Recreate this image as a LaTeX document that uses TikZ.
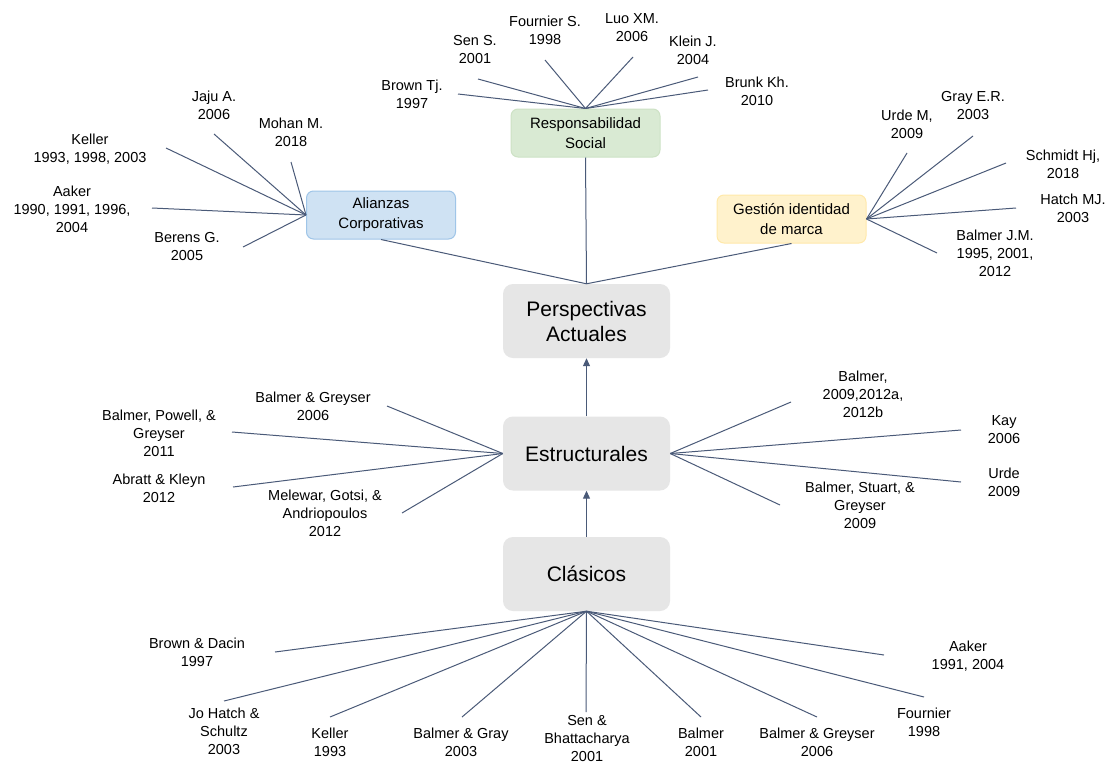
\documentclass[tikz,border=0pt]{standalone}
\usepackage{fontspec}
\setmainfont{Liberation Sans}
\usetikzlibrary{arrows.meta}
\definecolor{linec}{RGB}{74,90,120}
\definecolor{maingray}{RGB}{230,230,230}
\definecolor{bluefill}{RGB}{207,226,243}
\definecolor{blueline}{RGB}{159,197,232}
\definecolor{greenfill}{RGB}{217,234,211}
\definecolor{greenline}{RGB}{205,226,197}
\definecolor{yellowfill}{RGB}{255,242,204}
\definecolor{yellowline}{RGB}{255,233,170}
\begin{document}
\begin{tikzpicture}[x=1pt,y=-1pt,
  lbl/.style={align=center,font=\fontsize{14.5}{18}\selectfont,inner sep=0pt},
  mainbox/.style={fill=maingray,rounded corners=10pt,minimum width=167pt,minimum height=74pt,align=center,font=\fontsize{21}{25}\selectfont,inner sep=0pt},
  subbox/.style={rounded corners=7pt,minimum width=149pt,minimum height=48pt,align=center,font=\fontsize{15}{20}\selectfont,inner sep=0pt,line width=1pt},
  conn/.style={draw=linec,line width=1pt},
  arr/.style={conn,-{Triangle[length=8pt,width=7pt]}}]
\useasboundingbox (0,0) rectangle (1107,763);
\fill[white] (0,0) rectangle (1107,763);

% main boxes
\node[mainbox] (pers) at (586.5,321) {Perspectivas\\Actuales};
\node[mainbox] (estr) at (586.5,453.5) {Estructurales};
\node[mainbox] (clas) at (586.5,574) {Clásicos};

% sub boxes
\node[subbox,fill=bluefill,draw=blueline] (ali) at (381,215) {Alianzas\\Corporativas};
\node[subbox,fill=greenfill,draw=greenline] (resp) at (585.5,133) {Responsabilidad\\Social};
\node[subbox,fill=yellowfill,draw=yellowline] (gest) at (791.5,219) {Gestión identidad\\de marca};

% arrows and trunk lines
\draw[arr] (clas.north) -- (estr.south);
\draw[arr] (estr.north) -- (pers.south);
\draw[conn] (pers.north) -- (resp.south);
\draw[conn] (pers.north) -- (ali.south);
\draw[conn] (pers.north) -- (gest.south);

% Alianzas labels
\node[lbl] (jaju) at (214,105) {Jaju A.\\2006};
\node[lbl] (mohan) at (291,132) {Mohan M.\\2018};
\node[lbl] (keller1) at (90,149) {Keller\\1993, 1998, 2003};
\node[lbl] (aaker1) at (72,209) {Aaker\\1990, 1991, 1996,\\2004};
\node[lbl] (berens) at (187,247) {Berens G.\\2005};
\coordinate (ejaju) at (214,134);
\coordinate (emohan) at (291,162);
\coordinate (ekeller1) at (166,148);
\coordinate (eaaker1) at (152,208);
\coordinate (eberens) at (243,247);
\foreach \e in {ejaju,emohan,ekeller1,eaaker1,eberens}
  \draw[conn] (ali.west) -- (\e);

% Responsabilidad labels
\node[lbl] (browntj) at (412,94) {Brown Tj.\\1997};
\node[lbl] (sens) at (475,50) {Sen S.\\2001};
\node[lbl] (fournierS) at (545,30) {Fournier S.\\1998};
\node[lbl] (luo) at (632,28) {Luo XM.\\2006};
\node[lbl] (klein) at (693,50) {Klein J.\\2004};
\node[lbl] (brunk) at (757,91) {Brunk Kh.\\2010};
\coordinate (ebrowntj) at (458,94);
\coordinate (esens) at (478,79);
\coordinate (efournierS) at (545,60);
\coordinate (eluo) at (633,57);
\coordinate (eklein) at (698,77);
\coordinate (ebrunk) at (708,90);
\foreach \e in {ebrowntj,esens,efournierS,eluo,eklein,ebrunk}
  \draw[conn] (resp.north) -- (\e);

% Gestion labels
\node[lbl] (urde1) at (907,124) {Urde M,\\2009};
\node[lbl] (gray) at (973,106) {Gray E.R.\\2003};
\node[lbl] (schmidt) at (1063,164) {Schmidt Hj,\\2018};
\node[lbl] (hatch) at (1073,208) {Hatch MJ.\\2003};
\node[lbl] (balmerjm) at (995,253) {Balmer J.M.\\1995, 2001,\\2012};
\coordinate (eurde1) at (907,153);
\coordinate (egray) at (973,136);
\coordinate (eschmidt) at (1006,163);
\coordinate (ehatch) at (1016,208);
\coordinate (ebalmerjm) at (937,253);
\foreach \e in {eurde1,egray,eschmidt,ehatch,ebalmerjm}
  \draw[conn] (gest.east) -- (\e);

% Estructurales left
\node[lbl] (bg2006) at (313,406) {Balmer \& Greyser\\2006};
\node[lbl] (bpg) at (159,433) {Balmer, Powell, \&\\Greyser\\2011};
\node[lbl] (ak) at (159,488) {Abratt \& Kleyn\\2012};
\node[lbl] (mga) at (325,513) {Melewar, Gotsi, \&\\Andriopoulos\\2012};
\coordinate (ebg2006) at (387,406);
\coordinate (ebpg) at (232,432);
\coordinate (eak) at (233,487);
\coordinate (emga) at (402,513);
\foreach \e in {ebg2006,ebpg,eak,emga}
  \draw[conn] (estr.west) -- (\e);

% Estructurales right
\node[lbl] (balmer09) at (863,394) {Balmer,\\2009,2012a,\\2012b};
\node[lbl] (kay) at (1004,430) {Kay\\2006};
\node[lbl] (urde2) at (1004,482) {Urde\\2009};
\node[lbl] (bsg) at (860,505) {Balmer, Stuart, \&\\Greyser\\2009};
\coordinate (ebalmer09) at (791,402);
\coordinate (ekay) at (961,430);
\coordinate (eurde2) at (961,482);
\coordinate (ebsg) at (780,505);
\foreach \e in {ebalmer09,ekay,eurde2,ebsg}
  \draw[conn] (estr.east) -- (\e);

% Clasicos
\node[lbl] (bd) at (197,652) {Brown \& Dacin\\1997};
\node[lbl] (jhs) at (224,731) {Jo Hatch \&\\Schultz\\2003};
\node[lbl] (keller2) at (330,742) {Keller\\1993};
\node[lbl] (bgray) at (461,742) {Balmer \& Gray\\2003};
\node[lbl] (sb) at (587,738) {Sen \&\\Bhattacharya\\2001};
\node[lbl] (balmer01) at (701,742) {Balmer\\2001};
\node[lbl] (bgreyser06) at (817,742) {Balmer \& Greyser\\2006};
\node[lbl] (fournier) at (924,722) {Fournier\\1998};
\node[lbl] (aaker2) at (968,656) {Aaker\\1991, 2004};
\coordinate (ebd) at (275,652);
\coordinate (ejhs) at (224,701);
\coordinate (ekeller2) at (330,717);
\coordinate (ebgray) at (462,717);
\coordinate (esb) at (586,712);
\coordinate (ebalmer01) at (701,717);
\coordinate (ebgreyser06) at (817,717);
\coordinate (efournier) at (924,697);
\coordinate (eaaker2) at (884,655);
\foreach \e in {ebd,ejhs,ekeller2,ebgray,esb,ebalmer01,ebgreyser06,efournier,eaaker2}
  \draw[conn] (clas.south) -- (\e);
\end{tikzpicture}
\end{document}
